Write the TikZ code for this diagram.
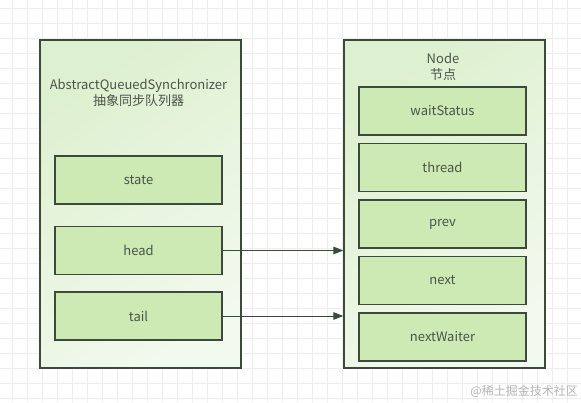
\documentclass[tikz,border=0pt]{standalone}
\usepackage{fontspec}
\setmainfont{Noto Sans CJK SC}
\usetikzlibrary{arrows.meta}
\definecolor{gridc}{HTML}{EDEDED}
\definecolor{outerA}{HTML}{DDF0CF}
\definecolor{outerB}{HTML}{F2F9EE}
\definecolor{innerf}{HTML}{CDEAB4}
\definecolor{edgec}{HTML}{3C4A3C}
\definecolor{txtc}{HTML}{4A544A}
\definecolor{wmc}{HTML}{B4B4B4}
\tikzset{
  outerbox/.style={draw=edgec, line width=1.3pt, top color=outerA, bottom color=outerB, shading angle=35, minimum width=201pt, minimum height=328pt, inner sep=0pt},
  fieldbox/.style={draw=edgec, line width=1.3pt, fill=innerf, minimum width=167pt, minimum height=48pt, inner sep=0pt, text=txtc, font=\fontsize{13}{15}\selectfont},
  titletext/.style={text=txtc, align=center, font=\fontsize{13}{16}\selectfont, inner sep=0pt},
  link/.style={draw=edgec, line width=1pt, -{Triangle[length=10pt,width=7.5pt]}},
}
\begin{document}
\begin{tikzpicture}[x=1pt,y=-1pt]
\useasboundingbox (0,0) rectangle (581,402);
\fill[white] (0,0) rectangle (581,402);
\foreach \gx in {12,27,...,582} \draw[gridc, line width=0.7pt] (\gx,0) -- (\gx,402);
\foreach \gy in {8,23,...,402} \draw[gridc, line width=0.7pt] (0,\gy) -- (581,\gy);

\node[outerbox] (aqs) at (140.5,204) {};
\node[outerbox] (nodebox) at (444.5,204) {};

\node[titletext] (aqstitle) at (138.5,93) {AbstractQueuedSynchronizer\\抽象同步队列器};
\node[titletext] (nodetitle) at (443,67) {Node\\节点};

\node[fieldbox] (state) at (138.5,180) {state};
\node[fieldbox] (head) at (138.5,250.5) {head};
\node[fieldbox] (tail) at (138.5,316) {tail};

\node[fieldbox] (waitStatus) at (442.5,111) {waitStatus};
\node[fieldbox] (thread) at (442.5,167.5) {thread};
\node[fieldbox] (prev) at (442.5,224) {prev};
\node[fieldbox] (next) at (442.5,280.5) {next};
\node[fieldbox] (nextWaiter) at (442.5,337) {nextWaiter};

\draw[link] (head.east) -- (head.east -| nodebox.west);
\draw[link] (tail.east) -- (tail.east -| nodebox.west);

\node[anchor=east, text=wmc, inner sep=0pt, font=\fontsize{12}{14}\selectfont] (wm) at (578,391) {@稀土掘金技术社区};
\end{tikzpicture}
\end{document}
